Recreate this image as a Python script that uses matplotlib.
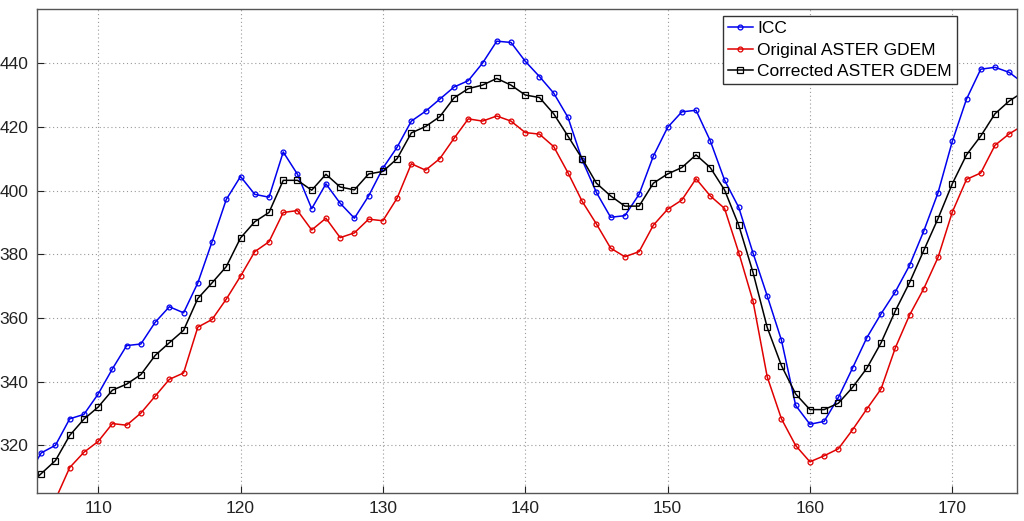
import matplotlib
matplotlib.use("Agg")
import matplotlib.pyplot as plt

plt.rcParams['font.family'] = ['Liberation Sans', 'DejaVu Sans']

x = list(range(105, 176))

icc = [310.0, 317.6, 320.0, 328.3, 329.7, 336.1, 344.0, 351.3, 351.8, 358.6,
       363.5, 361.6, 371.0, 383.9, 397.2, 404.4, 398.8, 397.9, 412.1, 405.1,
       394.3, 402.1, 396.0, 391.3, 398.3, 407.0, 413.6, 421.8, 424.9, 428.7,
       432.5, 434.5, 440.0, 446.9, 446.5, 440.6, 435.8, 430.6, 423.0, 409.6,
       399.4, 391.6, 392.1, 398.8, 410.8, 419.8, 424.7, 425.2, 415.6, 403.3,
       394.7, 380.4, 366.9, 353.0, 332.5, 326.6, 327.5, 335.0, 344.3, 353.8,
       361.3, 368.2, 376.5, 387.3, 399.3, 415.4, 428.7, 438.1, 438.7, 437.1,
       433.7]

original = [293.0, 298.0, 303.0, 313.0, 317.8, 321.2, 326.8, 326.3, 330.1, 335.4,
            340.7, 342.7, 357.1, 359.5, 365.9, 373.1, 380.8, 383.9, 393.1, 393.7,
            387.6, 391.3, 385.2, 386.7, 391.0, 390.5, 397.6, 408.4, 406.4, 410.0,
            416.4, 422.5, 421.8, 423.4, 421.8, 418.2, 417.7, 413.8, 405.6, 396.6,
            389.5, 381.9, 379.2, 380.8, 389.1, 394.1, 397.0, 403.7, 398.3, 394.4,
            380.5, 365.3, 341.5, 328.3, 319.9, 314.8, 316.7, 318.9, 324.9, 331.4,
            337.7, 350.6, 360.9, 369.2, 379.0, 393.2, 403.5, 405.5, 414.2, 417.8,
            420.5]

corrected = [307.0, 311.1, 315.2, 323.1, 328.2, 332.0, 337.3, 339.2, 342.2, 348.2,
             352.2, 356.1, 366.1, 371.0, 376.1, 385.1, 390.2, 393.1, 403.2, 403.2,
             400.1, 405.1, 401.1, 400.2, 405.2, 406.0, 410.0, 418.1, 420.1, 423.2,
             429.1, 432.0, 433.1, 435.2, 433.1, 430.0, 429.2, 424.1, 417.1, 410.0,
             402.3, 398.3, 395.1, 395.1, 402.3, 405.2, 407.2, 411.2, 407.2, 400.2,
             389.1, 374.3, 357.0, 345.0, 336.1, 331.2, 331.2, 333.2, 338.2, 344.2,
             352.2, 362.2, 371.1, 381.2, 391.2, 402.1, 411.2, 417.1, 424.1, 428.1,
             431.0]

labels = ['ICC', 'Original ASTER GDEM', 'Corrected ASTER GDEM']
xticks = [110, 120, 130, 140, 150, 160, 170]
yticks = [320, 340, 360, 380, 400, 420, 440]

fig = plt.figure(figsize=(10.24, 5.21), dpi=100)
ax = fig.add_axes([0.0361, 0.0537, 0.9571, 0.929])

ax.plot(x, icc, color='#0000ee', lw=1.1, marker='o', ms=3.5, mfc='none', mew=0.9, label=labels[0])
ax.plot(x, original, color='#e00000', lw=1.1, marker='o', ms=3.5, mfc='none', mew=0.9, label=labels[1])
ax.plot(x, corrected, color='black', lw=1.1, marker='s', ms=5, mfc='none', mew=0.9, label=labels[2])

ax.set_xlim(105.7, 174.55)
ax.set_ylim(305, 457)
ax.set_xticks(xticks)
ax.set_yticks(yticks)
ax.tick_params(direction='in', length=5, labelsize=12.5, colors='#222222', pad=6)
for s in ax.spines.values():
    s.set_color('#555555')
    s.set_linewidth(1.0)
ax.grid(True, linestyle=(0, (1, 2.5)), color='#999999', linewidth=0.8)

leg = ax.legend(loc='upper right', bbox_to_anchor=(0.939, 0.9855), fontsize=12.5,
                fancybox=False, framealpha=1, edgecolor='#333333',
                handlelength=1.45, handletextpad=0.25, borderpad=0.3,
                labelspacing=0.35, borderaxespad=0)
leg.get_frame().set_linewidth(1.0)

fig.savefig('out.png', dpi=100)
